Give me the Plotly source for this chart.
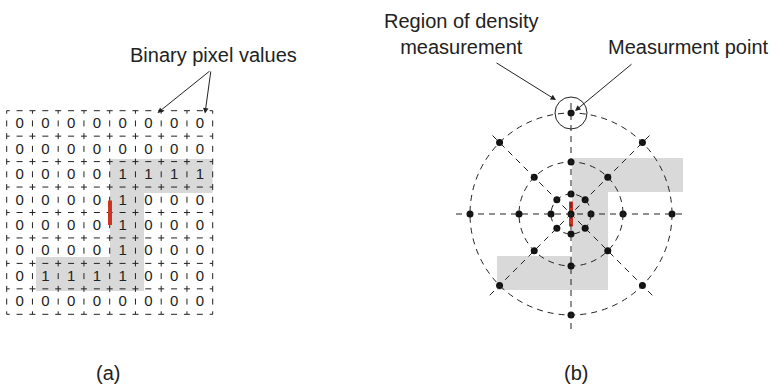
import numpy as np
import plotly.graph_objects as go

# Binary pixel matrix of the sampled stroke (row 0 at top)
pixel_values = [
    [0, 0, 0, 0, 0, 0, 0, 0],
    [0, 0, 0, 0, 0, 0, 0, 0],
    [0, 0, 0, 0, 1, 1, 1, 1],
    [0, 0, 0, 0, 1, 0, 0, 0],
    [0, 0, 0, 0, 1, 0, 0, 0],
    [0, 0, 0, 0, 1, 0, 0, 0],
    [0, 1, 1, 1, 1, 0, 0, 0],
    [0, 0, 0, 0, 0, 0, 0, 0],
]

# Radial sampling pattern: ring radii (px) and spoke directions (deg)
ring_radii = [20, 52, 101]
spoke_angles = [0, 45, 90, 135, 180, 225, 270, 315]

panel_labels = ["(a)", "(b)"]

W, H = 777, 391
INK = "#222222"
GRAY = "#d9d9d9"
RED = "#cc3322"
FONT = "Liberation Sans, Arial, Helvetica, sans-serif"

fig = go.Figure()

# ---------- panel (a): pixel grid ----------
gx0, gy0 = 6.7, 110.7
cw, rh = 25.75, 25.45
nrow, ncol = len(pixel_values), len(pixel_values[0])
gx1, gy1 = gx0 + ncol * cw, gy0 + nrow * rh

# stroke shading behind the grid
fig.add_shape(type="path",
              path=f"M110,159 L{gx1:.1f},159 L{gx1:.1f},193 L144,193 L144,291 "
                   f"L36,291 L36,257 L110,257 Z",
              fillcolor=GRAY, line=dict(width=0), layer="below")


def dash_runs(a0, a1, step, length):
    """Dash intervals centred on a0 + k*step, clipped to [a0, a1]."""
    out = []
    k = 0
    while a0 + k * step <= a1 + 1e-6:
        c = a0 + k * step
        out.append((max(a0, c - length / 2), min(a1, c + length / 2)))
        k += 1
    return out


lx, ly = [], []
for r in range(nrow + 1):
    y = gy0 + r * rh
    for s, e in dash_runs(gx0, gx1, cw / 2, 6):
        lx += [s, e, None]
        ly += [y, y, None]
for c in range(ncol + 1):
    x = gx0 + c * cw
    for s, e in dash_runs(gy0, gy1, rh / 2, 6):
        lx += [x, x, None]
        ly += [s, e, None]
fig.add_trace(go.Scatter(x=lx, y=ly, mode="lines",
                         line=dict(color=INK, width=1), hoverinfo="skip"))

tx, ty, tt = [], [], []
for r, row in enumerate(pixel_values):
    for c, v in enumerate(row):
        tx.append(gx0 + (c + 0.5) * cw)
        ty.append(gy0 + (r + 0.5) * rh + 1)
        tt.append(str(v))
fig.add_trace(go.Scatter(x=tx, y=ty, text=tt, mode="text",
                         textfont=dict(family=FONT, size=15, color=INK),
                         hoverinfo="skip"))

# measurement point on the stroke edge
fig.add_trace(go.Scatter(x=[110, 110], y=[200.5, 225], mode="lines",
                         line=dict(color=RED, width=4), hoverinfo="skip"))

# ---------- panel (b): radial sampling ----------
cx, cy = 571, 214
fig.add_shape(type="path",
              path="M572,158 L683,158 L683,192 L608,192 L608,290 L497,290 "
                   "L497,256 L572,256 Z",
              fillcolor=GRAY, line=dict(width=0), layer="below")

DASH = "6px,5px"
for rad in ring_radii:
    fig.add_shape(type="circle", x0=cx - rad, x1=cx + rad, y0=cy - rad, y1=cy + rad,
                  line=dict(color=INK, width=1, dash=DASH))

spoke_len = 115
for a in spoke_angles[:4]:
    dx, dy = np.cos(np.radians(a)), -np.sin(np.radians(a))
    fig.add_shape(type="line",
                  x0=cx - spoke_len * dx, y0=cy - spoke_len * dy,
                  x1=cx + spoke_len * dx, y1=cy + spoke_len * dy,
                  line=dict(color=INK, width=1, dash=DASH))

fig.add_trace(go.Scatter(x=[cx, cx], y=[cy - 12.5, cy + 12.5], mode="lines",
                         line=dict(color=RED, width=4), hoverinfo="skip"))

px_, py_ = [cx], [cy]
for rad in ring_radii:
    for a in spoke_angles:
        px_.append(cx + rad * np.cos(np.radians(a)))
        py_.append(cy - rad * np.sin(np.radians(a)))
fig.add_trace(go.Scatter(x=px_, y=py_, mode="markers",
                         marker=dict(color="#111111", size=7), hoverinfo="skip"))

# density-measurement region around the top outer sample
top_r = ring_radii[-1]
fig.add_shape(type="circle", x0=cx - 16, x1=cx + 16, y0=cy - top_r - 16, y1=cy - top_r + 16,
              line=dict(color=INK, width=1))

# ---------- labels and arrows ----------
def label(text, x, y, size=20):
    fig.add_annotation(x=x, y=y, text=text, showarrow=False, xanchor="center",
                       yanchor="middle", font=dict(family=FONT, size=size, color=INK))


def arrow(x0, y0, x1, y1):
    fig.add_annotation(x=x1, y=y1, ax=x0, ay=y0, xref="x", yref="y", axref="x", ayref="y",
                       text="", showarrow=True, arrowhead=2, arrowsize=1.1,
                       arrowwidth=1, arrowcolor=INK, standoff=0)


label("Binary pixel values", 213, 55)
arrow(211, 70, 157.5, 113)
arrow(211, 70, 205, 113.5)

label("Region of density<br>measurement", 461, 34)
label("Measurment point", 688, 47)
arrow(495, 62, 556, 100)
arrow(633, 63, 575, 111)

label(panel_labels[0], 108, 373)
label(panel_labels[1], 576, 373)

fig.update_layout(
    width=W, height=H, margin=dict(l=0, r=0, t=0, b=0),
    paper_bgcolor="white", plot_bgcolor="white", showlegend=False,
    xaxis=dict(range=[0, W], visible=False, fixedrange=True),
    yaxis=dict(range=[H, 0], visible=False, fixedrange=True),
)

fig.write_html("out.html")
